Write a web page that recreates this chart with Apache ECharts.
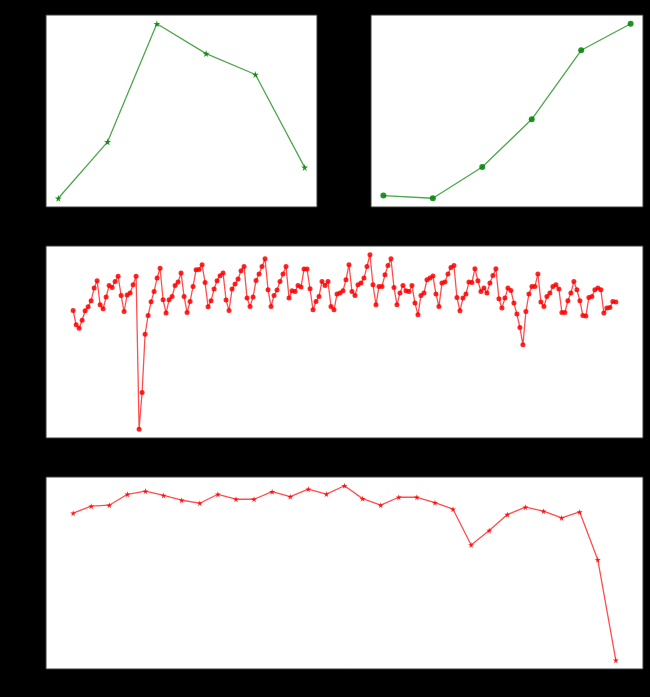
<!DOCTYPE html>
<html>
<head>
<meta charset="utf-8">
<script src="https://cdn.jsdelivr.net/npm/echarts@6/dist/echarts.min.js"></script>
<style>
  html, body { margin: 0; padding: 0; background: #000; }
  #chart { width: 650px; height: 697px; }
</style>
</head>
<body>
<div id="chart"></div>
<script>
// Top-left panel: six points, rises then falls
const topLeftValues = [83, 650, 1837, 1537, 1327, 393];
// Top-right panel: six points, steady climb
const topRightValues = [110, 83, 397, 877, 1570, 1837];
// Middle panel: daily series (182 days) with a weekly cycle
const dailyValues = [
  1273, 1130, 1097, 1175, 1270, 1310, 1370, 1497, 1570, 1330,
  1290, 1407, 1523, 1503, 1563, 1615, 1423, 1263, 1427, 1447,
  1530, 1615, 87, 455, 1037, 1223, 1360, 1463, 1597, 1695,
  1380, 1247, 1380, 1413, 1523, 1557, 1647, 1413, 1253, 1363,
  1513, 1680, 1683, 1730, 1553, 1310, 1370, 1487, 1570, 1620,
  1647, 1377, 1273, 1487, 1537, 1587, 1670, 1713, 1397, 1313,
  1407, 1573, 1637, 1713, 1790, 1480, 1313, 1423, 1477, 1563,
  1637, 1713, 1397, 1470, 1463, 1523, 1507, 1687, 1687, 1490,
  1280, 1363, 1413, 1563, 1523, 1563, 1313, 1280, 1437, 1447,
  1470, 1580, 1730, 1463, 1423, 1530, 1547, 1597, 1713, 1830,
  1530, 1330, 1513, 1513, 1630, 1723, 1790, 1503, 1330, 1447,
  1523, 1470, 1463, 1523, 1347, 1230, 1423, 1447, 1580, 1597,
  1617, 1437, 1313, 1547, 1557, 1637, 1703, 1723, 1403, 1270,
  1397, 1437, 1557, 1553, 1690, 1570, 1463, 1497, 1447, 1547,
  1623, 1690, 1390, 1297, 1397, 1497, 1473, 1347, 1237, 1103,
  930, 1263, 1437, 1513, 1513, 1637, 1357, 1313, 1413, 1447,
  1513, 1530, 1487, 1253, 1253, 1370, 1447, 1563, 1480, 1370,
  1223, 1217, 1403, 1413, 1480, 1497, 1480, 1247, 1297, 1303,
  1363, 1357
];
// Bottom panel: 31 points, sharp fall at the end
const monthlyValues = [
  840, 875, 880, 935, 951, 929, 905, 890, 935, 910,
  910, 948, 923, 961, 936, 978, 913, 880, 920, 920,
  893, 860, 680, 753, 833, 870, 850, 816, 846, 606,
  100
];

const GREEN_LINE = 'rgba(0,128,0,0.7)';
const GREEN_MARK = 'rgba(0,128,0,0.85)';
const RED_LINE = 'rgba(255,0,0,0.7)';
const RED_MARK = 'rgba(255,0,0,0.85)';
const STAR = 'path://M50,0 L61,35 L98,35 L68,57 L79,91 L50,70 L21,91 L32,57 L2,35 L39,35 Z';

// pair each value with its index so the x axis is numeric
const toPoints = vals => vals.map((v, i) => [i, v]);

// 5% padding on both sides of the data extent
const padMin = e => e.min - 0.05 * (e.max - e.min);
const padMax = e => e.max + 0.05 * (e.max - e.min);

const grids = [
  { left: 46, top: 15, width: 271, height: 192 },
  { left: 371, top: 15, width: 272, height: 192 },
  { left: 46, top: 246, width: 597, height: 192 },
  { left: 46, top: 477, width: 597, height: 192 }
].map(g => Object.assign({
  show: true,
  backgroundColor: '#ffffff',
  borderColor: '#3a3a3a',
  borderWidth: 1,
  containLabel: false
}, g));

const counts = [topLeftValues.length, topRightValues.length, dailyValues.length, monthlyValues.length];

const xAxes = counts.map((n, k) => ({
  type: 'value',
  gridIndex: k,
  min: -0.05 * (n - 1),
  max: (n - 1) * 1.05,
  axisLine: { show: false },
  axisTick: { show: false },
  axisLabel: { show: false },
  splitLine: { show: false }
}));

const yAxes = counts.map((n, k) => ({
  type: 'value',
  gridIndex: k,
  scale: true,
  min: padMin,
  max: padMax,
  axisLine: { show: false },
  axisTick: { show: false },
  axisLabel: { show: false },
  splitLine: { show: false }
}));

function lineSeries(k, vals, lineColor, markColor, symbol, size) {
  return {
    type: 'line',
    xAxisIndex: k,
    yAxisIndex: k,
    data: toPoints(vals),
    symbol: symbol,
    symbolSize: size,
    showAllSymbol: true,
    animation: false,
    lineStyle: { color: lineColor, width: 1.3 },
    itemStyle: { color: markColor, borderWidth: 0 }
  };
}

const chart = echarts.init(document.getElementById('chart'), null, { renderer: 'canvas' });
chart.setOption({
  backgroundColor: '#000000',
  animation: false,
  grid: grids,
  xAxis: xAxes,
  yAxis: yAxes,
  series: [
    lineSeries(0, topLeftValues, GREEN_LINE, GREEN_MARK, STAR, 7),
    lineSeries(1, topRightValues, GREEN_LINE, GREEN_MARK, 'circle', 6),
    lineSeries(2, dailyValues, RED_LINE, RED_MARK, 'circle', 5),
    lineSeries(3, monthlyValues, RED_LINE, RED_MARK, STAR, 6)
  ]
});
</script>
</body>
</html>
